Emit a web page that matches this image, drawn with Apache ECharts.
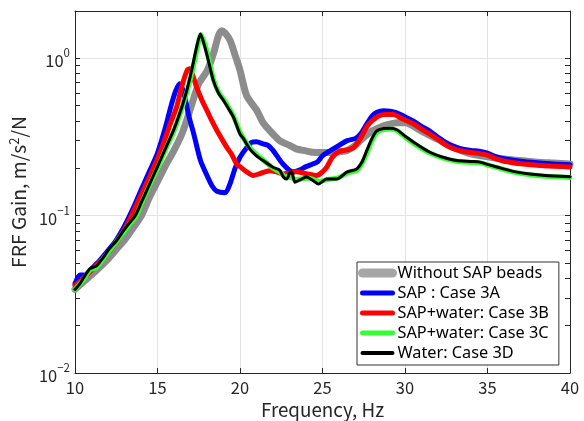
<!DOCTYPE html>
<html>
<head>
<meta charset="utf-8">
<script src="https://cdn.jsdelivr.net/npm/echarts@6/dist/echarts.min.js"></script>
<style>
  html, body { margin: 0; padding: 0; background: #fff; }
  #chart { width: 584px; height: 421px; }
</style>
</head>
<body>
<div id="chart"></div>
<script>
// 频率 / 增益 数据 (Hz, m/s^2/N)
var xTicks = [10, 15, 20, 25, 30, 35, 40];
var yMajor = [0.01, 0.1, 1];
var yMinor = [0.02, 0.03, 0.04, 0.05, 0.06, 0.07, 0.08, 0.09, 0.2, 0.3, 0.4, 0.5, 0.6, 0.7, 0.8, 0.9, 2];
var seriesNames = ["Without SAP beads", "SAP : Case 3A", "SAP+water: Case 3B", "SAP+water: Case 3C", "Water: Case 3D"];

var freqGray = [10, 10.5, 11, 11.5, 12, 12.5, 13, 13.5, 14, 14.5, 15, 15.5, 16, 16.5, 17, 17.5, 18, 18.4, 18.7, 18.9, 19.1, 19.4, 19.7, 20, 20.4, 21, 21.4, 22, 22.4, 23, 23.4, 24, 24.4, 25, 25.5, 26, 26.5, 27, 27.5, 28, 28.5, 29, 29.5, 30, 31, 32, 33, 34, 35, 36, 37, 38, 39, 40];
var gainGray = [0.034, 0.038, 0.042, 0.047, 0.053, 0.061, 0.07, 0.083, 0.099, 0.13, 0.165, 0.21, 0.26, 0.335, 0.48, 0.69, 0.83, 1.08, 1.4, 1.5, 1.45, 1.3, 1.05, 0.84, 0.58, 0.47, 0.39, 0.33, 0.3, 0.28, 0.266, 0.258, 0.253, 0.252, 0.252, 0.255, 0.26, 0.28, 0.315, 0.345, 0.365, 0.38, 0.39, 0.39, 0.345, 0.305, 0.27, 0.247, 0.237, 0.229, 0.224, 0.219, 0.216, 0.213];

var freqBlue = [10, 10.3, 10.6, 11, 11.5, 12, 12.5, 13, 13.5, 14, 14.5, 15, 15.5, 15.8, 16.1, 16.35, 16.6, 16.9, 17.2, 17.6, 18, 18.3, 18.6, 19.1, 19.4, 19.7, 20, 20.4, 20.7, 21, 21.4, 21.7, 22, 22.6, 23.2, 23.6, 24, 24.4, 24.7, 25, 25.5, 26, 26.5, 27, 27.3, 27.7, 28, 28.3, 28.7, 29.1, 29.5, 30, 30.5, 31, 31.5, 32, 32.5, 33, 33.5, 34, 34.5, 35, 35.5, 36, 37, 38, 39, 40];
var gainBlue = [0.037, 0.042, 0.042, 0.046, 0.052, 0.06, 0.07, 0.086, 0.11, 0.145, 0.19, 0.25, 0.37, 0.49, 0.62, 0.69, 0.6, 0.43, 0.33, 0.225, 0.18, 0.155, 0.143, 0.14, 0.16, 0.2, 0.235, 0.27, 0.292, 0.295, 0.286, 0.28, 0.26, 0.213, 0.19, 0.195, 0.205, 0.213, 0.22, 0.24, 0.26, 0.28, 0.3, 0.31, 0.33, 0.385, 0.43, 0.455, 0.465, 0.462, 0.45, 0.425, 0.4, 0.37, 0.345, 0.315, 0.29, 0.275, 0.265, 0.26, 0.257, 0.25, 0.237, 0.23, 0.222, 0.217, 0.213, 0.211];

var freqRed = [10, 10.5, 11, 11.5, 12, 12.5, 13, 13.5, 14, 14.5, 15, 15.35, 15.8, 16.16, 16.5, 16.8, 16.95, 17.1, 17.37, 17.7, 18, 18.3, 18.6, 19.2, 19.5, 19.8, 20, 20.4, 20.8, 21.2, 21.8, 22.2, 22.6, 23, 23.4, 24, 24.65, 25, 25.25, 25.6, 26, 26.5, 26.9, 27.3, 27.7, 28, 28.4, 28.8, 29.3, 29.8, 30.5, 31, 31.5, 32, 32.5, 33, 33.5, 34, 34.5, 35, 35.5, 36, 37, 38, 39, 40];
var gainRed = [0.036, 0.04, 0.045, 0.051, 0.058, 0.068, 0.082, 0.104, 0.135, 0.175, 0.23, 0.286, 0.39, 0.49, 0.68, 0.84, 0.86, 0.8, 0.656, 0.54, 0.465, 0.4, 0.348, 0.272, 0.245, 0.213, 0.205, 0.19, 0.18, 0.185, 0.193, 0.19, 0.184, 0.187, 0.19, 0.185, 0.18, 0.19, 0.203, 0.235, 0.256, 0.262, 0.272, 0.31, 0.37, 0.4, 0.43, 0.44, 0.44, 0.415, 0.384, 0.355, 0.33, 0.305, 0.28, 0.265, 0.257, 0.252, 0.248, 0.243, 0.23, 0.222, 0.214, 0.209, 0.206, 0.204];

var freqGreen = [10, 10.5, 10.9, 11.3, 11.7, 12.1, 12.5, 12.93, 13.3, 13.7, 14, 14.5, 15, 15.5, 16, 16.5, 16.8, 17.1, 17.4, 17.63, 17.85, 18.05, 18.4, 18.7, 19, 19.3, 19.6, 20, 20.3, 20.6, 21, 21.4, 22, 22.4, 22.7, 23, 23.4, 23.8, 24.2, 24.8, 25.3, 25.9, 26.5, 27.1, 27.4, 27.7, 28, 28.3, 28.7, 29.1, 29.5, 30.1, 30.8, 31.5, 32.3, 33.1, 34, 34.6, 35, 35.6, 36.5, 37.6, 38.5, 40];
var gainGreen = [0.034, 0.039, 0.045, 0.047, 0.053, 0.06, 0.068, 0.078, 0.088, 0.099, 0.118, 0.155, 0.2, 0.265, 0.345, 0.49, 0.62, 0.82, 1.15, 1.42, 1.25, 1.05, 0.73, 0.61, 0.55, 0.49, 0.43, 0.34, 0.3, 0.27, 0.245, 0.226, 0.2, 0.19, 0.178, 0.176, 0.17, 0.172, 0.173, 0.165, 0.17, 0.173, 0.186, 0.195, 0.215, 0.25, 0.3, 0.338, 0.352, 0.355, 0.348, 0.31, 0.276, 0.25, 0.232, 0.222, 0.218, 0.216, 0.21, 0.202, 0.19, 0.182, 0.178, 0.175];

var freqBlack = [10, 10.3, 10.5, 10.9, 11.3, 11.7, 12.1, 12.5, 12.93, 13.3, 13.65, 14, 14.5, 15, 15.5, 16, 16.5, 16.8, 17.07, 17.37, 17.6, 17.8, 18, 18.38, 18.7, 19, 19.3, 19.6, 20, 20.2, 20.6, 21, 21.4, 22, 22.4, 22.63, 22.83, 23.03, 23.13, 23.33, 23.6, 24.04, 24.4, 24.75, 25.25, 25.86, 26.47, 27.07, 27.4, 27.68, 28, 28.28, 28.7, 29.09, 29.5, 30.1, 30.8, 31.5, 32.3, 33.13, 34, 34.55, 35, 35.56, 36.5, 37.58, 38.5, 40];
var gainBlack = [0.034, 0.037, 0.04, 0.046, 0.048, 0.054, 0.062, 0.069, 0.08, 0.09, 0.1, 0.12, 0.157, 0.205, 0.27, 0.355, 0.5, 0.64, 0.84, 1.18, 1.43, 1.25, 1.05, 0.724, 0.6, 0.54, 0.48, 0.423, 0.33, 0.31, 0.265, 0.24, 0.224, 0.203, 0.195, 0.176, 0.171, 0.189, 0.19, 0.163, 0.168, 0.176, 0.168, 0.159, 0.171, 0.171, 0.189, 0.198, 0.22, 0.259, 0.31, 0.345, 0.358, 0.36, 0.352, 0.315, 0.28, 0.253, 0.235, 0.224, 0.221, 0.219, 0.212, 0.204, 0.192, 0.184, 0.18, 0.177];

var lineColors = ["#8c8c8c", "#0000ff", "#ff0000", "#33ff33", "#000000"];
var lineWidths = [7, 5, 5, 5, 3];
var legendColors = ["#a6a6a6", "#0000ff", "#ff0000", "#33ff33", "#000000"];
var legendWidths = [9, 5, 5, 5, 4];

function pairs(fs, vs) {
  return fs.map(function (f, i) { return [f, vs[i]]; });
}

var chart = echarts.init(document.getElementById("chart"));
var fontTick = "'Noto Sans CJK JP', 'DejaVu Sans', sans-serif";

function logLabel(value) {
  var p = Math.round(Math.log10(value));
  if (Math.abs(Math.log10(value) - p) > 1e-6) return "";
  return "{b|10}{s|" + (p < 0 ? "\u2212" + (-p) : p) + "}";
}

var allData = [
  pairs(freqGray, gainGray),
  pairs(freqBlue, gainBlue),
  pairs(freqRed, gainRed),
  pairs(freqGreen, gainGreen),
  pairs(freqBlack, gainBlack),
];

var tickStyle = { show: true, inside: true, length: 5, lineStyle: { color: "#262626" } };
var axisLineStyle = { show: true, lineStyle: { color: "#262626", width: 1 } };

var option = {
  animation: false,
  backgroundColor: "#fff",
  grid: { left: 75, right: 14, top: 11, bottom: 48, outerBoundsMode: "none", containLabel: false },
  legend: {
    orient: "vertical",
    left: 357,
    top: 262,
    padding: [2, 10, 3, 1],
    itemWidth: 30,
    itemHeight: 10,
    itemGap: 2,
    backgroundColor: "#fff",
    borderColor: "#333",
    borderWidth: 1,
    borderRadius: 0,
    textStyle: { fontFamily: "'Noto Sans', sans-serif", fontSize: 16.3, color: "#000", lineHeight: 18 },
    data: seriesNames.map(function (n, i) {
      return {
        name: n,
        lineStyle: { color: legendColors[i], width: legendWidths[i] },
        itemStyle: { color: "rgba(0,0,0,0)", borderWidth: 0 },
      };
    }),
  },
  xAxis: [
    {
      type: "value",
      min: 10,
      max: 40,
      interval: 5,
      name: "Frequency, Hz",
      nameLocation: "middle",
      nameGap: 27,
      nameTextStyle: { fontFamily: fontTick, fontSize: 18.8, color: "#262626" },
      axisLine: axisLineStyle,
      axisTick: tickStyle,
      axisLabel: { fontFamily: fontTick, fontSize: 16.5, color: "#262626", margin: 6 },
      splitLine: { show: true, lineStyle: { color: "#e3e3e3", width: 1 } },
    },
    {
      type: "value",
      position: "top",
      min: 10,
      max: 40,
      interval: 5,
      axisLine: axisLineStyle,
      axisTick: tickStyle,
      axisLabel: { show: false },
      splitLine: { show: false },
    },
  ],
  yAxis: [
    {
      type: "log",
      logBase: 10,
      min: 0.01,
      max: 2,
      position: "left",
      name: "{n|FRF Gain, m/s}{sup|2}{n|/N}",
      nameLocation: "middle",
      nameGap: 37,
      nameRotate: 90,
      nameTextStyle: {
        rich: {
          n: { fontFamily: fontTick, fontSize: 19.3, color: "#262626", lineHeight: 21 },
          sup: { fontFamily: fontTick, fontSize: 13, color: "#262626", verticalAlign: "top", lineHeight: 13 },
        },
      },
      axisLine: axisLineStyle,
      axisTick: Object.assign({ customValues: yMajor.concat(yMinor) }, tickStyle),
      axisLabel: {
        margin: 5,
        customValues: yMajor,
        formatter: logLabel,
        rich: {
          b: { fontFamily: fontTick, fontSize: 16.5, color: "#262626", lineHeight: 22, verticalAlign: "bottom" },
          s: { fontFamily: fontTick, fontSize: 11.5, color: "#262626", lineHeight: 22, verticalAlign: "top" },
        },
      },
      splitLine: { show: false },
    },
    {
      type: "log",
      logBase: 10,
      min: 0.01,
      max: 2,
      position: "right",
      axisLine: axisLineStyle,
      axisTick: Object.assign({ customValues: yMajor.concat(yMinor) }, tickStyle),
      axisLabel: { show: false },
      splitLine: { show: false },
    },
    {
      // 仅用于网格线
      type: "log",
      logBase: 10,
      min: 0.01,
      max: 2,
      position: "left",
      axisLine: { show: false },
      axisTick: { show: false },
      axisLabel: { show: false },
      splitLine: { show: true, lineStyle: { color: "#e3e3e3", width: 1 } },
    },
  ],
  series: seriesNames.map(function (n, i) {
    return {
      name: n,
      type: "line",
      data: allData[i],
      showSymbol: false,
      symbol: "none",
      smooth: 0.25,
      z: 2 + i,
      lineStyle: { color: lineColors[i], width: lineWidths[i], join: "round", cap: "round" },
      itemStyle: { color: lineColors[i] },
    };
  }),
};

chart.setOption(option);
</script>
</body>
</html>
